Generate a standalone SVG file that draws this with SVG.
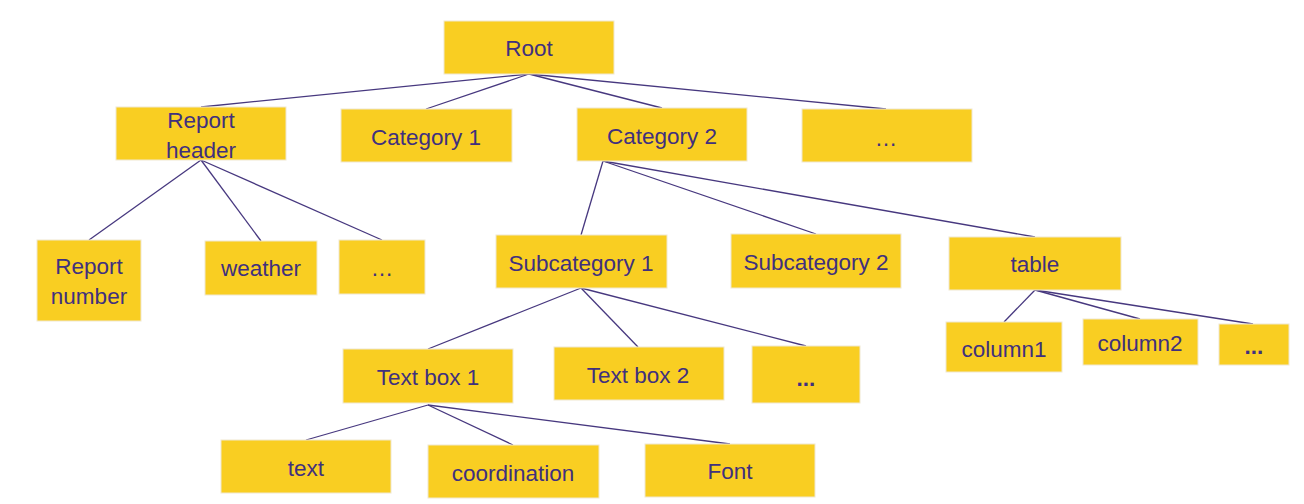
<svg xmlns="http://www.w3.org/2000/svg" width="1304" height="504" viewBox="0 0 1304 504">
<style>
.box{fill:#F9CE22;stroke:#F0E8D0;stroke-width:1}
.t{font-family:"Liberation Sans",Arial,sans-serif;font-size:22.5px;fill:#40307E;text-anchor:middle;dominant-baseline:central}
.c line{stroke:#47387F;stroke-width:1.3}
</style>
<rect width="1304" height="504" fill="#fff"/>
<g class="c" id="connectors">
<line x1="529" y1="74" x2="201" y2="107"/>
<line x1="529" y1="74" x2="426" y2="109"/>
<line x1="529" y1="74" x2="662" y2="108"/>
<line x1="529" y1="74" x2="886" y2="109"/>
<line x1="201" y1="160" x2="89" y2="240"/>
<line x1="201" y1="160" x2="261" y2="241"/>
<line x1="201" y1="160" x2="382" y2="240"/>
<line x1="603" y1="161" x2="581" y2="235"/>
<line x1="603" y1="161" x2="816" y2="234"/>
<line x1="603" y1="161" x2="1035" y2="237"/>
<line x1="581" y1="288" x2="428" y2="349"/>
<line x1="581" y1="288" x2="638" y2="347"/>
<line x1="581" y1="288" x2="806" y2="346"/>
<line x1="1035" y1="290" x2="1004" y2="322"/>
<line x1="1035" y1="290" x2="1140" y2="319"/>
<line x1="1035" y1="290" x2="1253" y2="324"/>
<line x1="428" y1="405" x2="306" y2="440"/>
<line x1="428" y1="405" x2="513" y2="445"/>
<line x1="428" y1="405" x2="730" y2="444"/>
</g>
<g id="root"><rect class="box" x="444" y="21" width="170" height="53"/><text class="t" x="529" y="48">Root</text></g>
<g id="report-header"><rect class="box" x="116" y="107" width="170" height="53"/><text class="t" x="201" y="120">Report</text><text class="t" x="201" y="150">header</text></g>
<g id="category1"><rect class="box" x="341" y="109" width="171" height="53"/><text class="t" x="426" y="137">Category 1</text></g>
<g id="category2"><rect class="box" x="577" y="108" width="170" height="53"/><text class="t" x="662" y="136">Category 2</text></g>
<g id="more1"><rect class="box" x="802" y="109" width="170" height="53"/><text class="t" x="886" y="138">…</text></g>
<g id="report-number"><rect class="box" x="37" y="240" width="104" height="81"/><text class="t" x="89" y="266">Report</text><text class="t" x="89" y="296">number</text></g>
<g id="weather"><rect class="box" x="205" y="241" width="112" height="54"/><text class="t" x="261" y="268">weather</text></g>
<g id="more2"><rect class="box" x="339" y="240" width="86" height="54"/><text class="t" x="382" y="268">…</text></g>
<g id="subcategory1"><rect class="box" x="496" y="235" width="171" height="53"/><text class="t" x="581" y="263">Subcategory 1</text></g>
<g id="subcategory2"><rect class="box" x="731" y="234" width="170" height="54"/><text class="t" x="816" y="262">Subcategory 2</text></g>
<g id="table"><rect class="box" x="949" y="237" width="172" height="53"/><text class="t" x="1035" y="264">table</text></g>
<g id="column1"><rect class="box" x="946" y="322" width="116" height="50"/><text class="t" x="1004" y="349">column1</text></g>
<g id="column2"><rect class="box" x="1083" y="319" width="115" height="46"/><text class="t" x="1140" y="343">column2</text></g>
<g id="more3"><rect class="box" x="1219" y="324" width="70" height="41"/><text class="t" x="1254" y="346" font-weight="bold">...</text></g>
<g id="textbox1"><rect class="box" x="343" y="349" width="170" height="54"/><text class="t" x="428" y="377">Text box 1</text></g>
<g id="textbox2"><rect class="box" x="554" y="347" width="170" height="53"/><text class="t" x="638" y="375">Text box 2</text></g>
<g id="more4"><rect class="box" x="752" y="346" width="108" height="57"/><text class="t" x="806" y="378" font-weight="bold">...</text></g>
<g id="text"><rect class="box" x="221" y="440" width="170" height="53"/><text class="t" x="306" y="468">text</text></g>
<g id="coordination"><rect class="box" x="428" y="445" width="171" height="53"/><text class="t" x="513" y="473">coordination</text></g>
<g id="font"><rect class="box" x="645" y="444" width="170" height="53"/><text class="t" x="730" y="471">Font</text></g>
</svg>
